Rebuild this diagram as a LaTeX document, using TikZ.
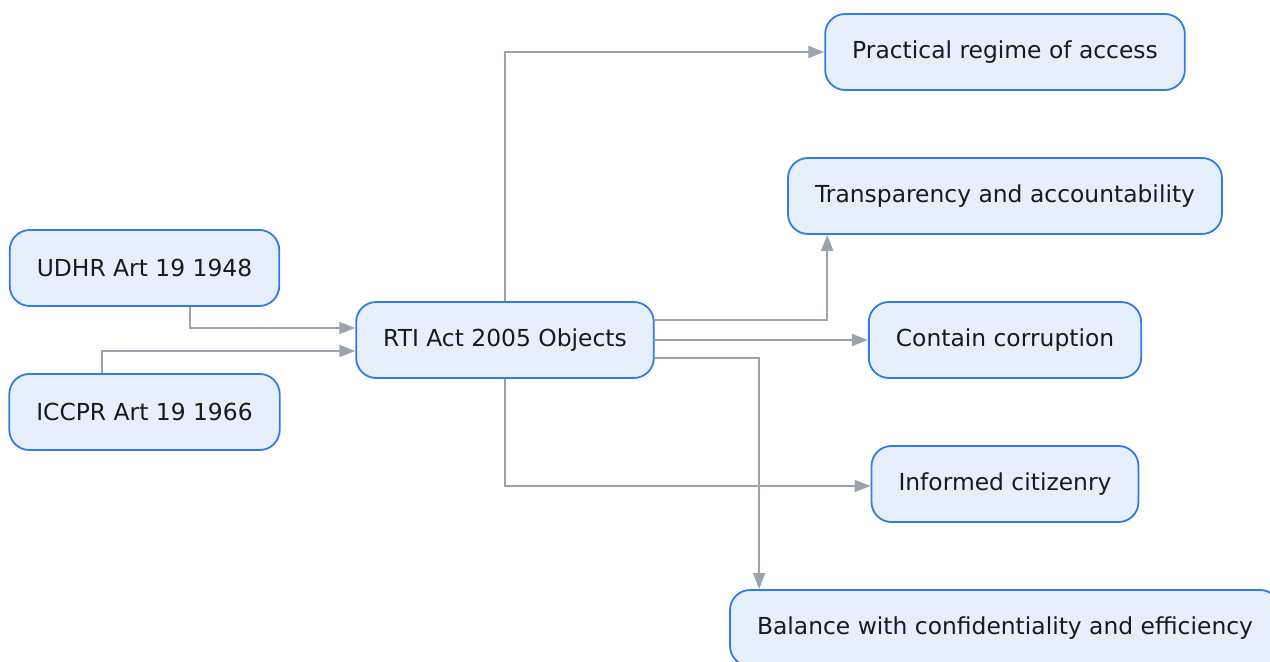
\documentclass[tikz,border=0pt]{standalone}
\usepackage{fontspec}
\setmainfont{DejaVu Sans}
\usetikzlibrary{arrows.meta}
\definecolor{boxfill}{HTML}{E8EFFC}
\definecolor{boxline}{HTML}{2F7BEA}
\definecolor{linkgray}{HTML}{9CA3AF}
\definecolor{textdark}{HTML}{1A1A1A}
\begin{document}
	\begin{tikzpicture}[
			x=0.5pt, y=-0.5pt,
			box/.style={rectangle, rounded corners=10pt, draw=boxline, fill=boxfill, line width=0.9pt,
					minimum height=38pt, inner xsep=13.5pt, text=textdark,
					font=\fontsize{11.7}{14}\selectfont},
			link/.style={draw=linkgray, line width=1pt, -{Triangle[length=8pt,width=6pt]}}
		]
		\path[use as bounding box, clip] (0,0) rectangle (1270,662);
		\node[box] (practical) at (1005,52) {Practical regime of access};
		\node[box] (transp) at (1005,196) {Transparency and accountability};
		\node[box] (udhr) at (144.5,268) {UDHR Art 19 1948};
		\node[box] (rti) at (505,340) {RTI Act 2005 Objects};
		\node[box] (contain) at (1005,340) {Contain corruption};
		\node[box] (iccpr) at (144.5,412) {ICCPR Art 19 1966};
		\node[box] (informed) at (1005,484) {Informed citizenry};
		\node[box] (balance) at (1005,628) {Balance with confidentiality and efficiency};
		\draw[link] ([xshift=22.75pt]udhr.south) |- ([yshift=6pt]rti.west);
		\draw[link] ([xshift=-21.25pt]iccpr.north) |- ([yshift=-5.5pt]rti.west);
		\draw[link] (rti.north) |- (practical.west);
		\draw[link] ([yshift=10pt]rti.east) -| ([xshift=20pt]transp.south west);
		\draw[link] (rti.east) -- (contain.west);
		\draw[link] ([yshift=-9pt]rti.east) -| ([xshift=15pt]balance.north west);
		\draw[link] (rti.south) |- ([yshift=-1pt]informed.west);
	\end{tikzpicture}
\end{document}
